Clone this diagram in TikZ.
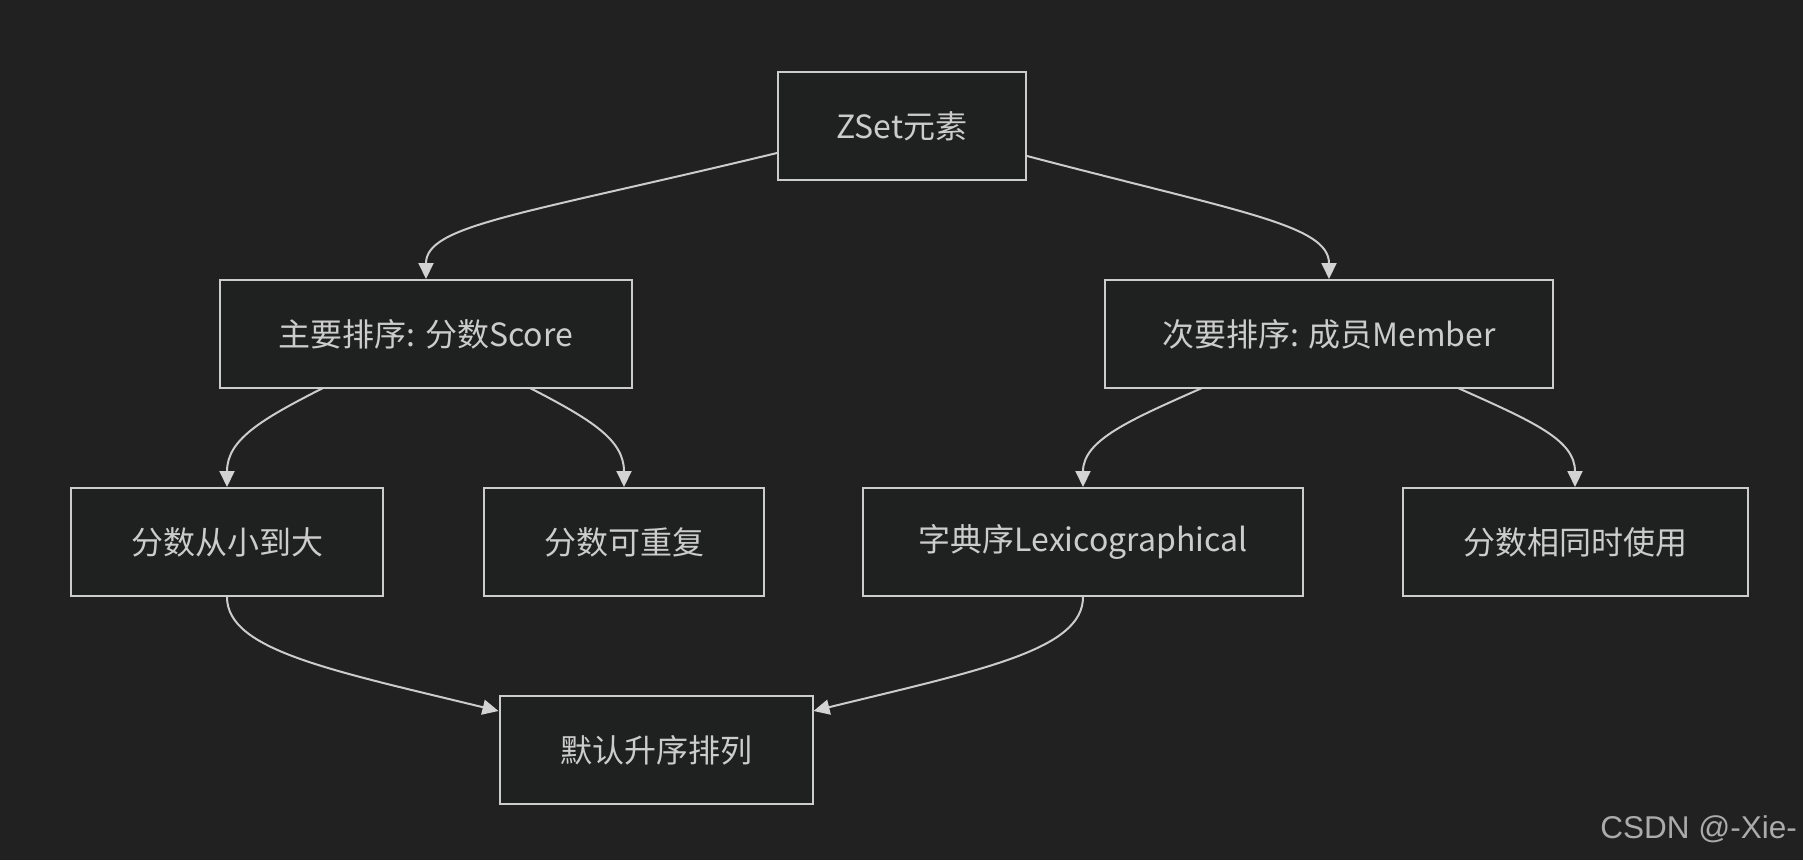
\documentclass[tikz,border=0pt]{standalone}
\usepackage{fontspec}
\setmainfont{Noto Sans CJK SC}
\newfontfamily\wmfont{Liberation Sans}
\usetikzlibrary{arrows.meta}
\definecolor{bgc}{HTML}{212121}
\definecolor{nodefill}{HTML}{1F2020}
\definecolor{linec}{HTML}{CCCCCC}
\definecolor{tipc}{HTML}{D3D3D3}
\definecolor{txtc}{HTML}{CCCCCC}
\definecolor{wmc}{HTML}{ABABAB}
\tikzset{
  box/.style={draw=linec, line width=2pt, fill=nodefill, text=txtc,
    minimum height=108pt, inner sep=0pt,
    font=\fontsize{32}{37}\selectfont},
  conn/.style={draw=linec, line width=2pt,
    -{Triangle[length=16pt,width=15pt,color=tipc,fill=tipc]}},
}
\begin{document}
\begin{tikzpicture}[x=1pt,y=-1pt]
\fill[bgc] (0,0) rectangle (1803,860);
\useasboundingbox (0,0) rectangle (1803,860);

\node[box, minimum width=248pt] (z) at (902,126) {ZSet元素};
\node[box, minimum width=412pt] (a) at (426,334) {主要排序: 分数Score};
\node[box, minimum width=448pt] (b) at (1329,334) {次要排序: 成员Member};
\node[box, minimum width=312pt] (a1) at (227,542) {分数从小到大};
\node[box, minimum width=280pt] (a2) at (624,542) {分数可重复};
\node[box, minimum width=440pt] (b1) at (1083,542) {字典序Lexicographical};
\node[box, minimum width=345pt] (b2) at (1575,542) {分数相同时使用};
\node[box, minimum width=313pt] (d) at (656,750) {默认升序排列};

\draw[conn] (z.west|-0,153) .. controls (520,215) and (426,225) .. (a.north);
\draw[conn] (z.east|-0,156) .. controls (1240,212) and (1329,225) .. (b.north);
\draw[conn] (323,388) .. controls (260,420) and (227,440) .. (a1.north);
\draw[conn] (530,388) .. controls (592,420) and (624,440) .. (a2.north);
\draw[conn] (1202,388) .. controls (1130,420) and (1083,440) .. (b1.north);
\draw[conn] (1458,388) .. controls (1534,422) and (1575,440) .. (b2.north);
\draw[conn] (a1.south) .. controls (227,650) and (330,670) .. (d.west|-0,711);
\draw[conn] (b1.south) .. controls (1083,650) and (981,670) .. (d.east|-0,711);

\node[anchor=base east, text=wmc, font=\wmfont\fontsize{31.5}{36}\selectfont, inner sep=0pt] (wm) at (1797,838) {CSDN @-Xie-};
\end{tikzpicture}
\end{document}
